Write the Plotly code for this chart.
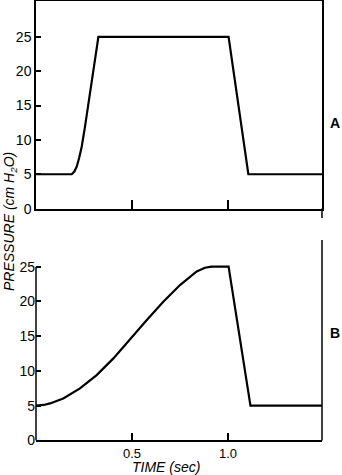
import plotly.graph_objects as go

# Panel A (square-ish pressure waveform)
time_a = [0.0, 0.186, 0.2, 0.212, 0.225, 0.238, 0.255, 0.273, 0.29, 0.307, 0.325, 1.003, 1.106, 1.49]
pres_a = [5.0, 5.0, 5.4, 6.1, 7.4, 9.0, 11.9, 15.3, 18.7, 22.1, 25.0, 25.0, 5.0, 5.0]

# Panel B (ramp pressure waveform)
time_b = [0.0, 0.04, 0.073, 0.142, 0.229, 0.316, 0.403, 0.49, 0.576, 0.663, 0.75, 0.837, 0.88, 0.915, 1.003, 1.117, 1.49]
pres_b = [5.0, 5.1, 5.32, 6.04, 7.48, 9.4, 11.8, 14.6, 17.3, 19.95, 22.35, 24.3, 24.85, 25.0, 25.0, 5.0, 5.0]

y_ticks = [0, 5, 10, 15, 20, 25]
x_ticks = [0.5, 1.0]
x_tick_text = ["0.5", "1.0"]

W, H = 342, 475
FONT = "Liberation Sans, Arial, sans-serif"

fig = go.Figure()
fig.add_trace(go.Scatter(x=time_a, y=pres_a, mode="lines",
                         line=dict(color="black", width=2.2), xaxis="x", yaxis="y",
                         showlegend=False, hoverinfo="skip"))
fig.add_trace(go.Scatter(x=time_b, y=pres_b, mode="lines",
                         line=dict(color="black", width=2.2), xaxis="x2", yaxis="y2",
                         showlegend=False, hoverinfo="skip"))

x_dom = [36 / W, 322 / W]
x_rng = [0, (322 - 36) / 192]

top_dom = [1 - 208.6 / H, 1 - 1 / H]
top_rng = [0, 207.6 / 6.87]
bot_dom = [1 - 440.4 / H, 1 - 240 / H]
bot_rng = [0, 200.4 / 6.95]

axis_common = dict(showgrid=False, zeroline=False, linecolor="black", linewidth=1.5,
                   automargin=False, tickcolor="black")
tf14 = dict(family=FONT, size=14, color="black")
tf13 = dict(family=FONT, size=13, color="black")

fig.update_layout(
    width=W, height=H,
    margin=dict(l=0, r=0, t=0, b=0, autoexpand=False),
    paper_bgcolor="white", plot_bgcolor="white",
    xaxis=dict(domain=x_dom, range=x_rng, anchor="y", showline=True, mirror=True,
               ticks="inside", ticklen=9, tickwidth=1.5, tickvals=x_ticks,
               showticklabels=False, tickfont=tf14, **axis_common),
    yaxis=dict(domain=top_dom, range=top_rng, anchor="x", showline=True, mirror=True,
               ticks="inside", ticklen=5, tickwidth=1.5, tickvals=y_ticks,
               tickfont=tf14, **axis_common),
    xaxis2=dict(domain=x_dom, range=x_rng, anchor="y2", showline=True,
                ticks="inside", ticklen=8, tickwidth=1.5, tickvals=x_ticks,
                ticktext=x_tick_text, tickfont=tf13, **axis_common),
    yaxis2=dict(domain=bot_dom, range=bot_rng, anchor="x2", showline=False,
                ticks="inside", ticklen=5, tickwidth=1.5, tickvals=y_ticks,
                tickfont=tf14, **axis_common),
)

# frame pieces
fig.add_shape(type="line", xref="paper", yref="paper",
              x0=322 / W, x1=322 / W, y0=1 - 218 / H, y1=1 - 208.6 / H,
              line=dict(color="black", width=1.5))
fig.add_shape(type="line", xref="x2 domain", yref="y2",
              x0=0, x1=0, y0=0, y1=max(y_ticks),
              line=dict(color="black", width=1.5))
fig.add_shape(type="line", xref="x2 domain", yref="y2 domain",
              x0=1, x1=1, y0=0, y1=1,
              line=dict(color="black", width=1.5))

ann_common = dict(xref="paper", yref="paper", showarrow=False,
                  xanchor="center", yanchor="middle")
fig.add_annotation(text="<i>PRESSURE (cm H<sub>2</sub>O)</i>",
                   x=10 / W, y=1 - 222 / H, textangle=-90,
                   font=dict(family=FONT, size=14, color="black"), **ann_common)
fig.add_annotation(text="<i>TIME (sec)</i>",
                   x=166 / W, y=1 - 467 / H,
                   font=dict(family=FONT, size=14, color="black"), **ann_common)
fig.add_annotation(text="<b>A</b>",
                   x=335 / W, y=1 - 123 / H,
                   font=dict(family=FONT, size=14, color="black"), **ann_common)
fig.add_annotation(text="<b>B</b>",
                   x=335 / W, y=1 - 333 / H,
                   font=dict(family=FONT, size=14, color="black"), **ann_common)

fig.write_html("out.html")
